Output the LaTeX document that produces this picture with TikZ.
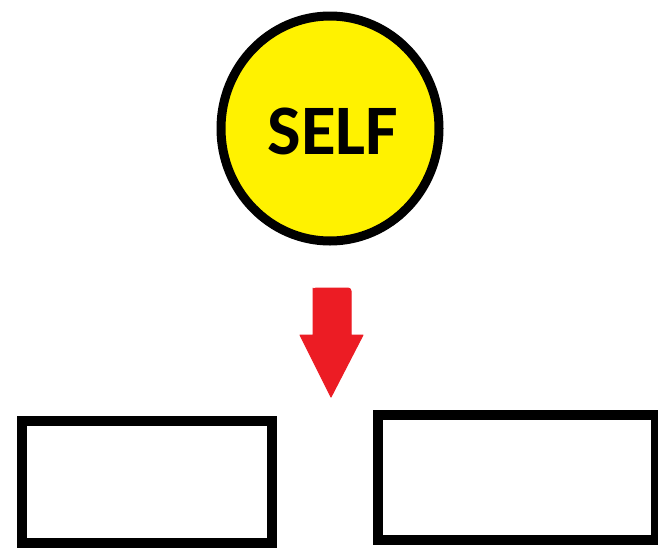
\documentclass[tikz,border=0pt]{standalone}
\usepackage{fontspec}
\setmainfont{Carlito}
\usetikzlibrary{shapes.geometric}
\definecolor{selfyellow}{HTML}{FFF200}
\definecolor{arrowred}{HTML}{EC1C24}
\tikzset{
  selfnode/.style={ellipse, draw=black, fill=selfyellow, line width=9pt, inner sep=0pt,
    minimum width=218pt, minimum height=225pt, font=\fontsize{71}{76}\selectfont\bfseries},
  boxnode/.style={rectangle, draw=black, fill=white, line width=10pt, inner sep=0pt},
  redarrow/.style={fill=arrowred, draw=arrowred, line width=1pt, line join=round}
}
\begin{document}
\begin{tikzpicture}[x=1pt,y=-1pt]
\useasboundingbox[fill=white] (0,0) rectangle (658,547);
\node[selfnode] (self) at (330,128.5) {};
\node[font=\fontsize{71}{76}\selectfont\bfseries, inner sep=0pt] (selftext) at (333,131) {SELF};
\draw[redarrow] (313,291) -- (313,335) -- (300,335) -- (331,397) -- (363,335) -- (351,335) -- (351,291)
  [rounded corners=3pt] -- (351,288) -- (313,288) -- cycle;
\node[boxnode, minimum width=250pt, minimum height=122pt] (leftbox) at (147,482) {};
\node[boxnode, minimum width=278pt, minimum height=125pt] (rightbox) at (517,477.5) {};
\end{tikzpicture}
\end{document}
